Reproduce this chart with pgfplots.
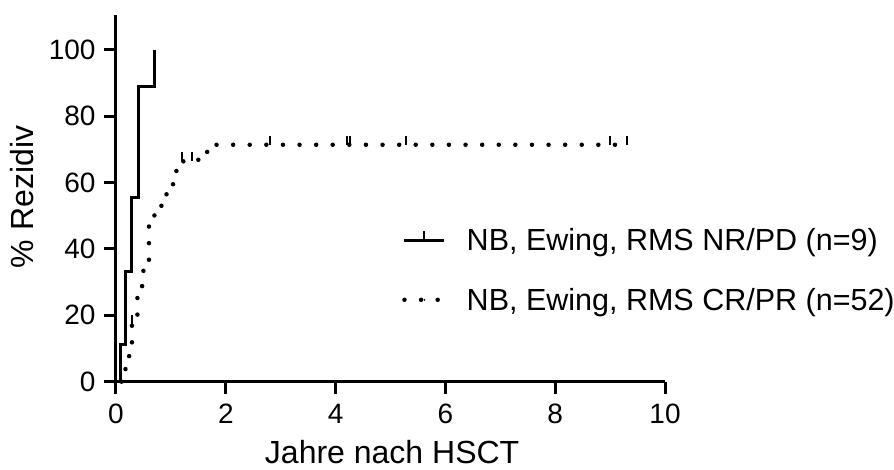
\documentclass[border=0pt]{standalone}
\usepackage{fontspec}
\setmainfont{Liberation Sans}
\usepackage{pgfplots}
\pgfplotsset{compat=1.18}
\newcommand{\tickfont}{\fontsize{28}{33}\selectfont}
\newcommand{\legfont}{\fontsize{30.5}{36}\selectfont}
\newcommand{\labfont}{\fontsize{32}{38}\selectfont}
\begin{document}
\begin{tikzpicture}
\begin{axis}[
  at={(0,0)}, anchor=origin,
  scale only axis, width=549pt, height=366.7pt,
  xmin=0, xmax=10, ymin=0, ymax=110.5,
  axis x line*=bottom, axis y line*=left,
  axis line style={-, line width=3pt, black},
  xtick={0,2,...,10}, ytick={0,20,...,100},
  tick align=outside, major tick length=12pt,
  every tick/.style={line width=3pt, black},
  tick label style={font=\tickfont},
  yticklabel style={xshift=-5pt},
  xticklabel style={yshift=-7pt},
  /pgf/number format/assume math mode=true,
  xlabel={Jahre nach HSCT}, ylabel={\% Rezidiv},
  every axis x label/.style={at={(axis description cs:0.503,-0.192)}, anchor=center, font=\labfont},
  every axis y label/.style={at={(axis description cs:-0.172,0.504)}, rotate=90, anchor=center, font=\labfont},
  clip=false,
  legend style={at={(axis description cs:0.521,0.3046)}, anchor=west, draw=none, fill=none,
    inner sep=0pt, row sep=32pt, font=\legfont},
  legend cell align=left,
]
\addplot[const plot, line width=3pt, black,
  legend image code/.code={\draw[line width=3pt] (0pt,0pt) -- (40pt,0pt); \draw[line width=2pt] (20pt,0pt) -- (20pt,9pt); \path (58pt,0pt);}]
  coordinates {(0,0) (0.09,11.1) (0.18,33.3) (0.286,55.6) (0.406,88.9) (0.70,100)};
\addlegendentry{NB, Ewing, RMS NR/PD (n=9)}
\addplot[const plot, line width=4.5pt, black, line cap=round, dash pattern=on 0pt off 16.6pt,
  legend image code/.code={\draw[line width=4.5pt, line cap=round, dash pattern=on 0pt off 16.6pt] (0pt,0pt) -- (40pt,0pt); \draw[line width=2pt] (20pt,0pt) -- (20pt,9pt); \path (58pt,0pt);}]
  coordinates {(0.10,0) (0.10,3.8) (0.20,7.7) (0.29,17.3) (0.39,28.8) (0.50,36.5) (0.60,50.0) (0.70,53.0) (0.83,55.8) (0.92,59.5) (1.10,66.4) (1.50,67.6) (1.66,71.4) (9.32,71.4)};
\addlegendentry{NB, Ewing, RMS CR/PR (n=52)}
\addplot[forget plot, only marks, mark=|, mark size=4.5pt, mark options={line width=2pt, yshift=4.5pt, black}]
  coordinates {(0.30,17.3) (1.20,66.4) (1.38,66.4) (2.81,71.4) (4.20,71.4) (4.27,71.4) (5.29,71.4) (9.00,71.4) (9.30,71.4)};
\end{axis}
\pgfresetboundingbox
\path[use as bounding box] (-116pt,-88.3pt) rectangle (778pt,381.7pt);
\end{tikzpicture}
\end{document}
